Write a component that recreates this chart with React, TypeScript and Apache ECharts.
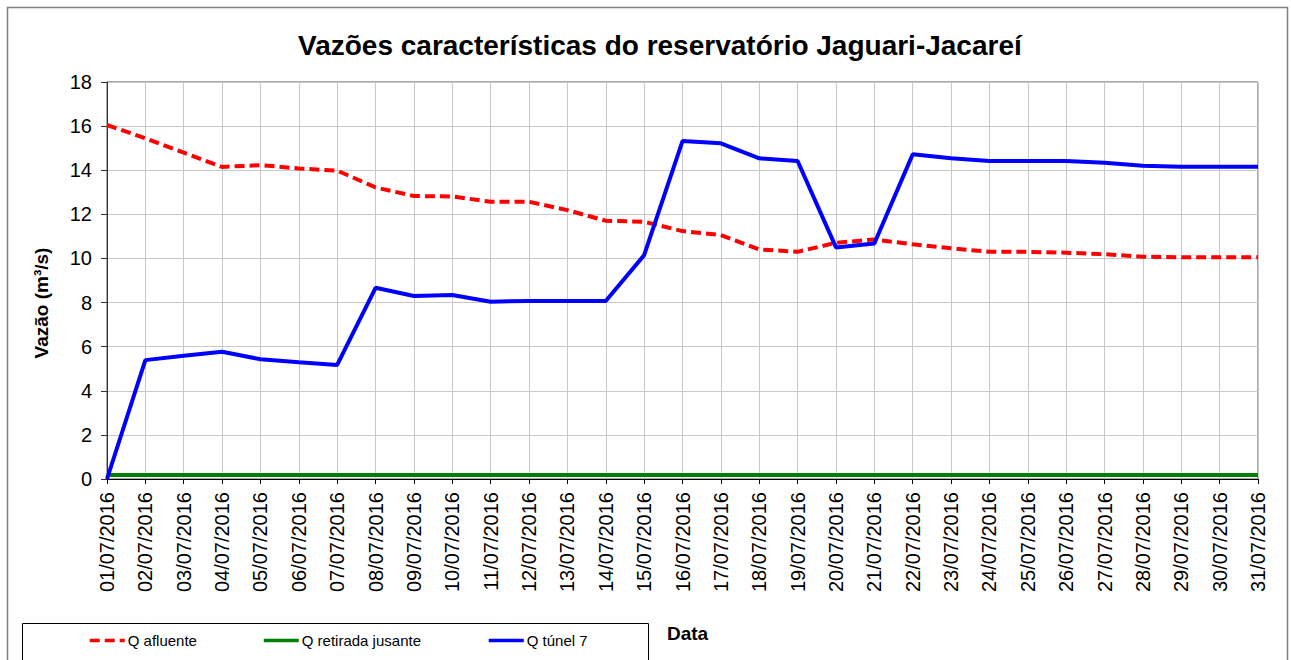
import React, { useEffect, useRef } from "react";
import * as echarts from "echarts";

const categories = [
  "01/07/2016", "02/07/2016", "03/07/2016", "04/07/2016", "05/07/2016", "06/07/2016",
  "07/07/2016", "08/07/2016", "09/07/2016", "10/07/2016", "11/07/2016", "12/07/2016",
  "13/07/2016", "14/07/2016", "15/07/2016", "16/07/2016", "17/07/2016", "18/07/2016",
  "19/07/2016", "20/07/2016", "21/07/2016", "22/07/2016", "23/07/2016", "24/07/2016",
  "25/07/2016", "26/07/2016", "27/07/2016", "28/07/2016", "29/07/2016", "30/07/2016",
  "31/07/2016",
];

const qAfluente = [
  16.05, 15.45, 14.8, 14.15, 14.23, 14.08, 13.98, 13.22, 12.83, 12.81, 12.57, 12.57,
  12.19, 11.71, 11.66, 11.24, 11.06, 10.41, 10.3, 10.71, 10.86, 10.64, 10.46, 10.3,
  10.3, 10.26, 10.19, 10.08, 10.05, 10.05, 10.05,
];

const qRetiradaJusante = [
  0.18, 0.18, 0.18, 0.18, 0.18, 0.18, 0.18, 0.18, 0.18, 0.18, 0.18, 0.18, 0.18, 0.18,
  0.18, 0.18, 0.18, 0.18, 0.18, 0.18, 0.18, 0.18, 0.18, 0.18, 0.18, 0.18, 0.18, 0.18,
  0.18, 0.18, 0.18,
];

const qTunel7 = [
  0, 5.39, 5.59, 5.77, 5.43, 5.29, 5.17, 8.67, 8.3, 8.34, 8.04, 8.07, 8.07, 8.07,
  10.15, 15.32, 15.22, 14.54, 14.42, 10.5, 10.68, 14.72, 14.54, 14.42, 14.42, 14.42,
  14.34, 14.2, 14.16, 14.16, 14.16,
];

const seriesNames = ["Q afluente", "Q retirada jusante", "Q túnel 7"];
const FONT = "Arial, 'Liberation Sans', sans-serif";

export default function App() {
  const ref = useRef<HTMLDivElement>(null);

  useEffect(() => {
    if (!ref.current) return;
    const chart = echarts.init(ref.current, null, { renderer: "svg" });
    const legendCommon = {
      top: 633,
      padding: 0,
      itemWidth: 35,
      itemHeight: 8,
      itemStyle: { opacity: 0 },
      lineStyle: { width: 3.5 },
      textStyle: { fontFamily: FONT, fontSize: 15, color: "#000", padding: [0, 0, 0, -2] },
    };
    chart.setOption({
      animation: false,
      backgroundColor: "#fff",
      textStyle: { fontFamily: FONT },
      title: {
        text: "Vazões características do reservatório Jaguari-Jacareí",
        left: 293,
        top: 26,
        textStyle: { fontFamily: FONT, fontSize: 28, fontWeight: "bold", color: "#000" },
      },
      legend: [
        { ...legendCommon, left: 88, data: [seriesNames[0]] },
        { ...legendCommon, left: 262, data: [seriesNames[1]] },
        { ...legendCommon, left: 487, data: [seriesNames[2]] },
      ],
      grid: {
        left: 107,
        right: 33,
        top: 82,
        bottom: 181,
        show: true,
        borderColor: "#555",
        borderWidth: 1,
      },
      xAxis: {
        type: "category",
        data: categories,
        boundaryGap: false,
        axisLine: { show: true, lineStyle: { color: "#000", width: 1 } },
        axisTick: { show: true, length: 5, lineStyle: { color: "#000" } },
        axisLabel: {
          rotate: 90,
          interval: 0,
          margin: 13,
          fontSize: 20,
          fontFamily: FONT,
          color: "#000",
        },
        splitLine: { show: true, lineStyle: { color: "#c8c8c8", width: 1 } },
      },
      yAxis: {
        type: "value",
        min: 0,
        max: 18,
        interval: 2,
        axisLine: { show: true, lineStyle: { color: "#333", width: 1 } },
        axisTick: { show: true, length: 6, lineStyle: { color: "#333" } },
        axisLabel: { margin: 15, fontSize: 20, fontFamily: FONT, color: "#000" },
        splitLine: { show: true, lineStyle: { color: "#c8c8c8", width: 1 } },
      },
      graphic: [
        {
          type: "rect",
          shape: { x: 7.5, y: 7.5, width: 1280, height: 700 },
          style: { fill: "none", stroke: "#808080", lineWidth: 1.5 },
          silent: true,
        },
        {
          type: "rect",
          shape: { x: 22.5, y: 623.5, width: 626, height: 60 },
          style: { fill: "none", stroke: "#000", lineWidth: 1 },
          silent: true,
        },
        {
          type: "text",
          x: 41,
          y: 303,
          rotation: Math.PI / 2,
          style: {
            text: "Vazão (m³/s)",
            fontFamily: FONT,
            fontSize: 19,
            fontWeight: "bold",
            fill: "#000",
            align: "center",
            verticalAlign: "middle",
          },
        },
        {
          type: "text",
          x: 667,
          y: 633,
          style: {
            text: "Data",
            fontFamily: FONT,
            fontSize: 19,
            fontWeight: "bold",
            fill: "#000",
            align: "left",
            verticalAlign: "middle",
          },
        },
      ],
      series: [
        {
          name: seriesNames[0],
          type: "line",
          data: qAfluente,
          symbol: "none",
          lineStyle: { color: "#ff0000", width: 4, type: [10, 5] },
          itemStyle: { color: "#ff0000" },
          z: 3,
        },
        {
          name: seriesNames[1],
          type: "line",
          data: qRetiradaJusante,
          symbol: "none",
          lineStyle: { color: "#008000", width: 4 },
          itemStyle: { color: "#008000" },
          z: 2,
        },
        {
          name: seriesNames[2],
          type: "line",
          data: qTunel7,
          symbol: "none",
          lineStyle: { color: "#0000ff", width: 4 },
          itemStyle: { color: "#0000ff" },
          z: 4,
        },
      ],
    });
    return () => chart.dispose();
  }, []);

  return (
    <div
      ref={ref}
      style={{ position: "absolute", left: 0, top: 0, width: 1291, height: 660 }}
    />
  );
}
